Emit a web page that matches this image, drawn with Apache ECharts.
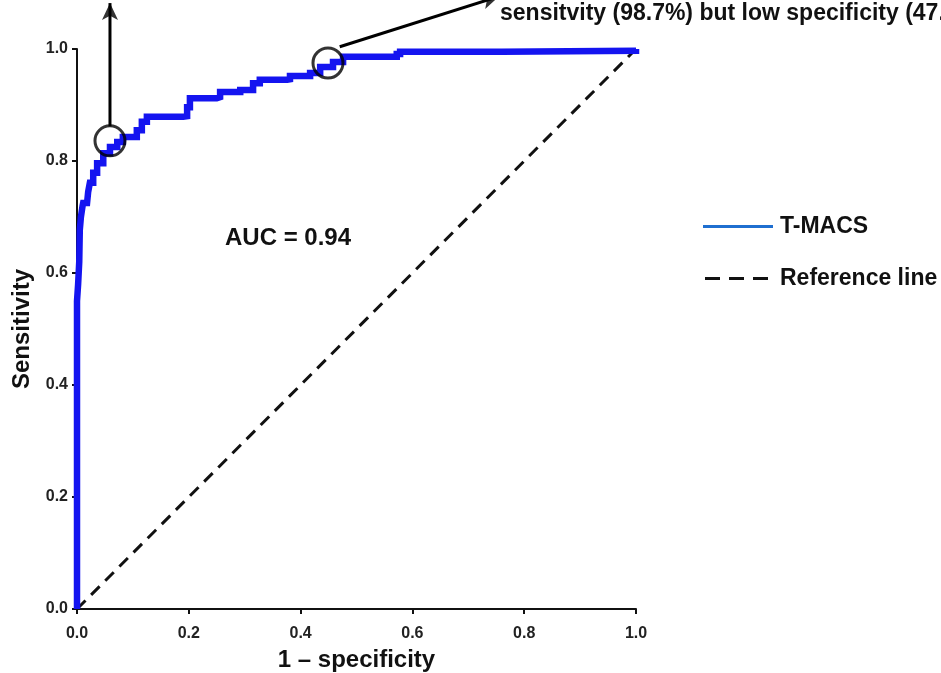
<!DOCTYPE html>
<html>
<head>
<meta charset="utf-8">
<script src="https://cdn.jsdelivr.net/npm/echarts@6/dist/echarts.min.js"></script>
<style>
  html, body { margin: 0; padding: 0; background: #fff; }
  #chart { width: 941px; height: 673px; }
</style>
</head>
<body>
<div id="chart"></div>
<script>
// ROC points (1 - specificity, sensitivity)
var fpr = [0, 0, 0.002, 0.004, 0.005, 0.007, 0.010, 0.011, 0.018, 0.020, 0.023, 0.029, 0.036, 0.047,
  0.059, 0.072, 0.082, 0.107, 0.116, 0.125, 0.190, 0.197, 0.202, 0.250, 0.256, 0.292, 0.315,
  0.327, 0.376, 0.381, 0.417, 0.435, 0.458, 0.476, 0.572, 0.578, 0.76, 1.0]
var tpr = [0, 0.55, 0.58, 0.62, 0.677, 0.70, 0.72, 0.725, 0.725, 0.745, 0.761, 0.779, 0.796, 0.814,
  0.825, 0.834, 0.843, 0.855, 0.870, 0.879, 0.880, 0.896, 0.912, 0.914, 0.923, 0.927, 0.939,
  0.945, 0.946, 0.952, 0.957, 0.968, 0.977, 0.986, 0.991, 0.995, 0.997, 1.0]
var refX = [0, 1]
var refY = [0, 1]
var tickLabels = ['0.0', '0.2', '0.4', '0.6', '0.8', '1.0']
// highlighted cut-off points (circles) and arrow ends
var cutoffs = [[0.059, 0.836], [0.449, 0.975]]
var arrowUp = [[0.059, 0.862], [0.059, 1.082]]
var arrowRight = [[0.470, 1.004], [0.755, 1.094]]

var font = 'Liberation Sans, Arial, sans-serif'
var chart = echarts.init(document.getElementById('chart'))

function zip(a, b) {
  return a.map(function (v, i) { return [v, b[i]] })
}
function fmt(v) {
  return tickLabels[Math.round(v / 0.2)]
}

var axisCommon = {
  type: 'value',
  min: 0,
  max: 1,
  interval: 0.2,
  splitLine: { show: false },
  axisLine: { show: true, lineStyle: { color: '#111', width: 2 } },
  axisTick: { show: true, inside: false, length: 5, lineStyle: { color: '#111', width: 2 } },
  axisLabel: { color: '#222', fontSize: 16, fontWeight: 'bold', fontFamily: font, formatter: fmt },
  nameLocation: 'middle'
}

function arrowSeries(name, pts, rot) {
  return [
    {
      name: name,
      type: 'line',
      data: pts,
      clip: false,
      symbol: 'none',
      lineStyle: { color: '#000', width: 3 },
      silent: true,
      z: 4
    },
    {
      name: name + '-head',
      type: 'scatter',
      data: [pts[1]],
      clip: false,
      symbol: 'arrow',
      symbolSize: [12, 17],
      symbolRotate: rot,
      itemStyle: { color: '#000' },
      silent: true,
      z: 4
    }
  ]
}

var series = [
  {
    name: 'Reference line',
    type: 'line',
    data: zip(refX, refY),
    symbol: 'none',
    lineStyle: { color: '#111', width: 3, type: [12, 8] },
    itemStyle: { color: '#111' },
    z: 2
  },
  {
    name: 'T-MACS',
    type: 'line',
    data: zip(fpr, tpr),
    step: 'end',
    symbol: 'none',
    lineStyle: { color: '#1414f0', width: 6.5, join: 'miter' },
    itemStyle: { color: '#1f6fd0' },
    z: 3
  },
  {
    name: 'cutoff',
    type: 'scatter',
    data: cutoffs,
    symbol: 'circle',
    symbolSize: 30,
    itemStyle: { color: 'rgba(0,0,0,0)', borderColor: '#000', borderWidth: 3 },
    silent: true,
    z: 5
  }
].concat(arrowSeries('arrow1', arrowUp, 0), arrowSeries('arrow2', arrowRight, -72.6))

chart.setOption({
  animation: false,
  grid: { left: 77, right: 305, top: 49, bottom: 64, containLabel: false, outerBoundsMode: 'none' },
  xAxis: Object.assign({}, axisCommon, {
    name: '1 \u2013 specificity',
    nameGap: 39,
    nameTextStyle: { color: '#111', fontWeight: 'bold', fontFamily: font, fontSize: 24 },
    axisLabel: Object.assign({}, axisCommon.axisLabel, { margin: 17 })
  }),
  yAxis: Object.assign({}, axisCommon, {
    name: 'Sensitivity',
    nameGap: 43,
    nameTextStyle: { color: '#111', fontWeight: 'bold', fontFamily: font, fontSize: 24 },
    axisLabel: Object.assign({}, axisCommon.axisLabel, { margin: 9 })
  }),
  legend: {
    orient: 'vertical',
    left: 698,
    top: 210,
    itemWidth: 75,
    itemHeight: 14,
    itemGap: 29,
    textStyle: { color: '#111', fontSize: 23, fontWeight: 'bold', fontFamily: font, padding: [0, 0, 0, -3] },
    data: [
      { name: 'T-MACS', icon: 'path://M0,5.5 L70,5.5 L70,8.5 L0,8.5 Z M75,0 L75,0 Z M75,14 L75,14 Z', itemStyle: { color: '#1f6fd0' } },
      { name: 'Reference line', icon: 'path://M2,5.5 L17,5.5 L17,8.5 L2,8.5 Z M26,5.5 L41,5.5 L41,8.5 L26,8.5 Z M50,5.5 L65,5.5 L65,8.5 L50,8.5 Z M0,0 L0,0 Z M75,14 L75,14 Z', itemStyle: { color: '#111' } }
    ]
  },
  graphic: [
    {
      type: 'text', left: 225, top: 226,
      style: { text: 'AUC = 0.94', fill: '#111', fontSize: 24, fontWeight: 'bold', fontFamily: font }
    },
    {
      type: 'text', left: 500, top: 2,
      style: { text: 'sensitvity (98.7%) but low specificity (47.', fill: '#111', fontSize: 23, fontWeight: 'bold', fontFamily: font }
    }
  ],
  series: series
})
</script>
</body>
</html>
